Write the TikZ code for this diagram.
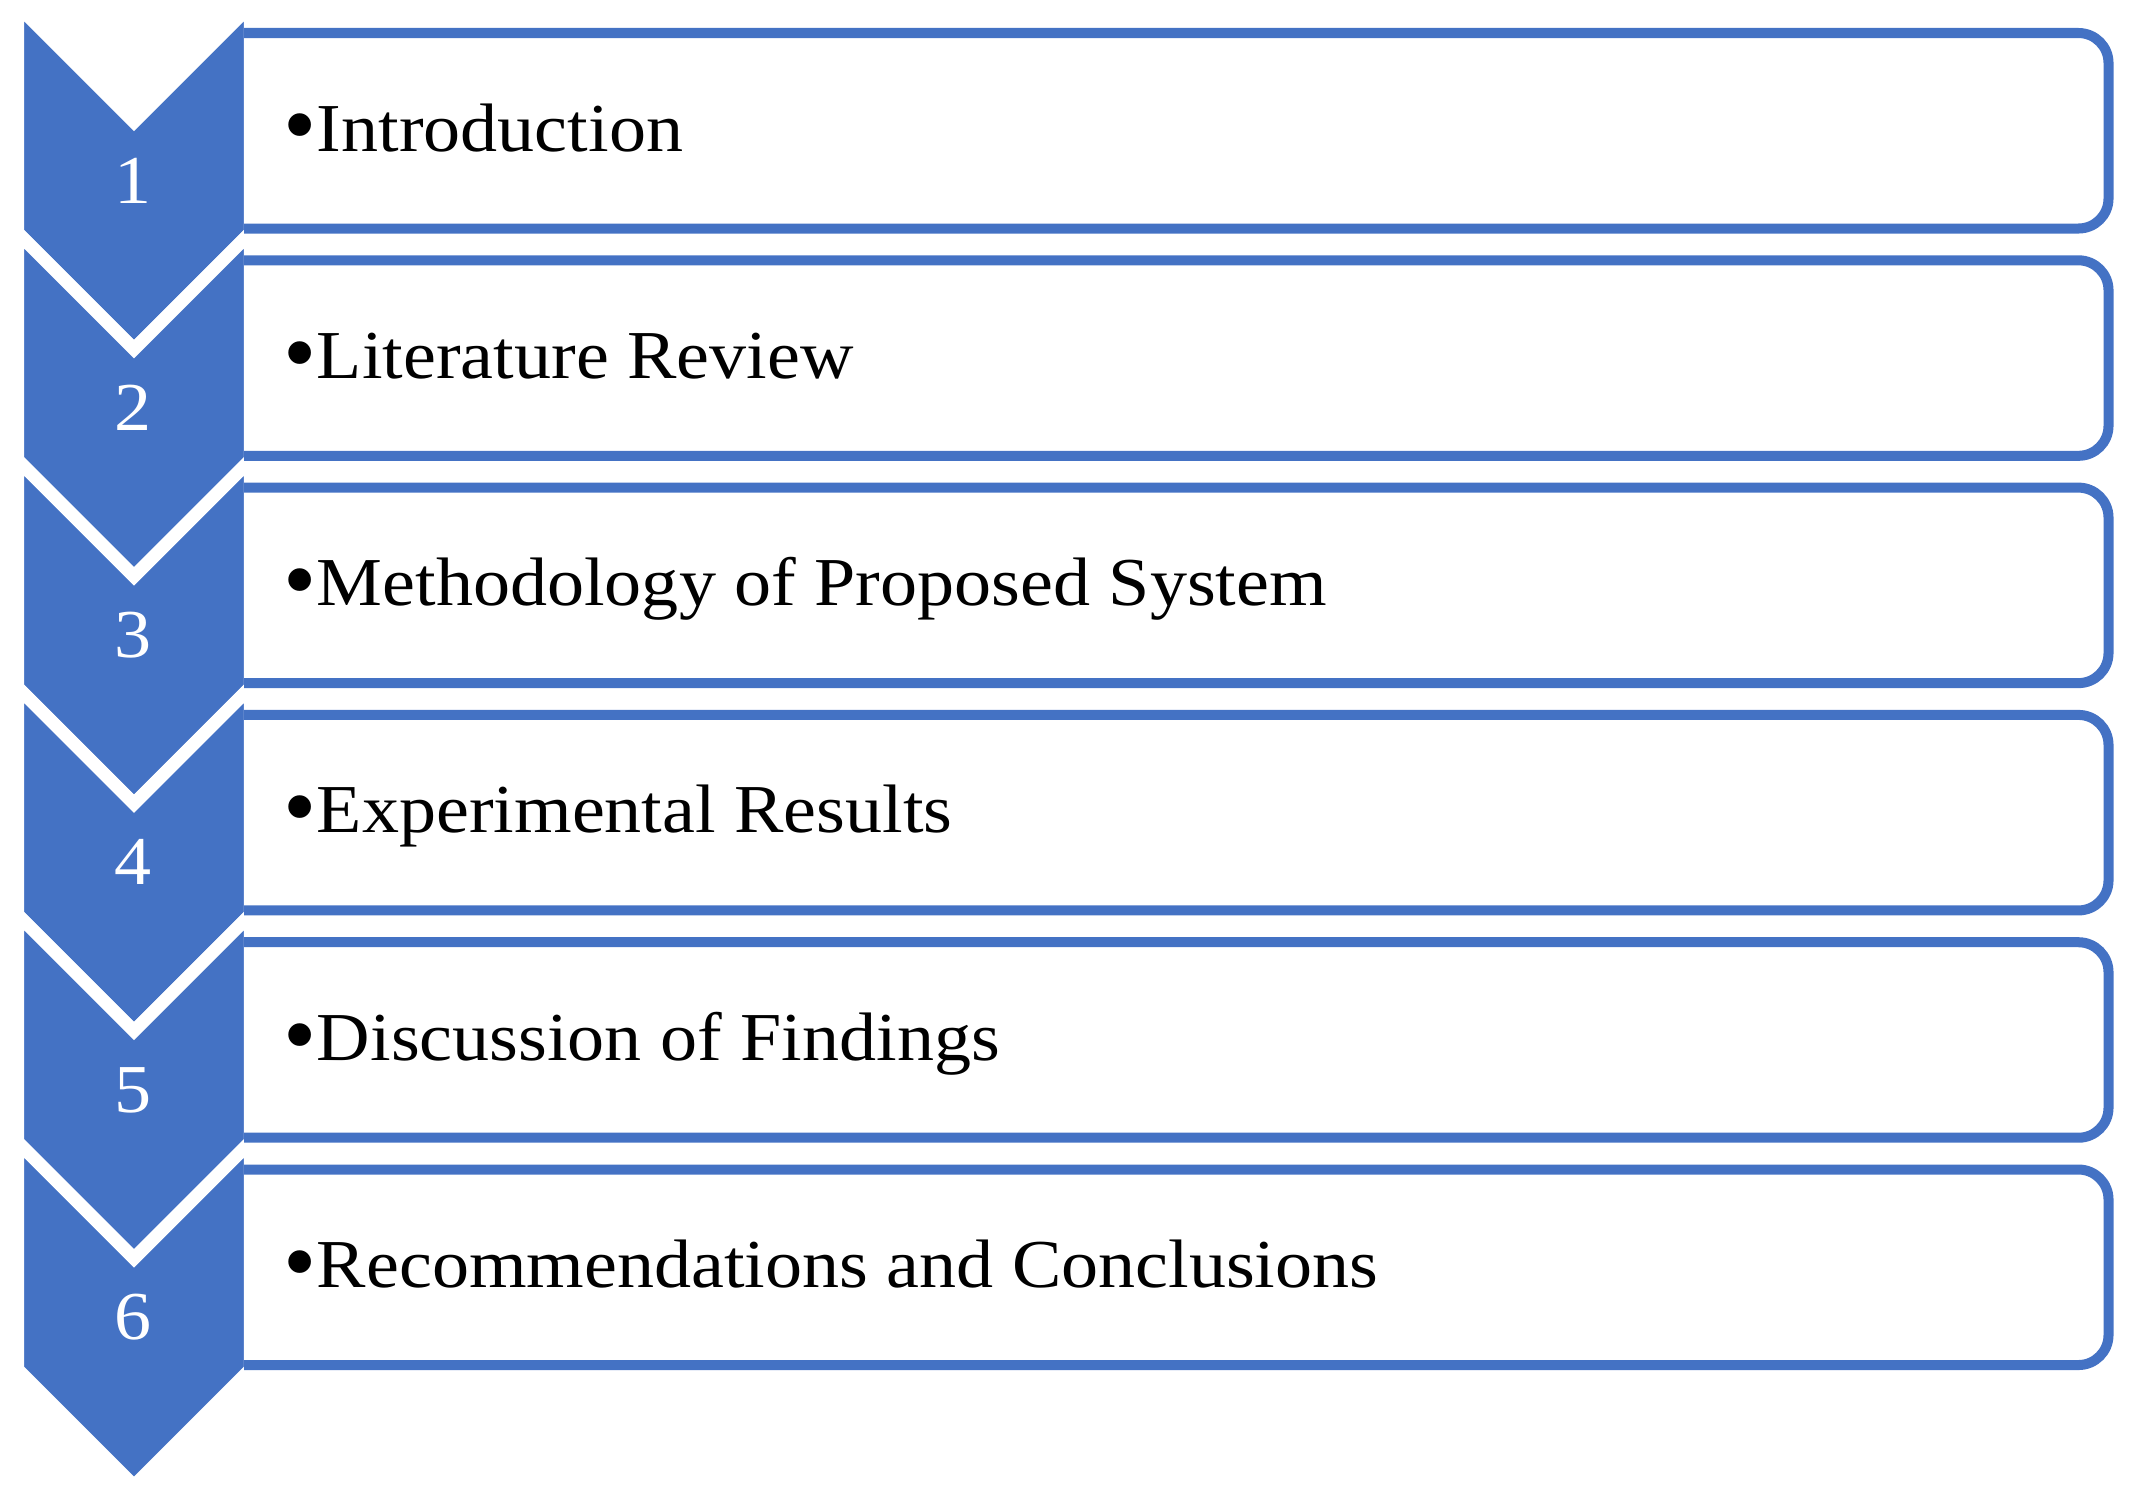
\documentclass[tikz,border=0pt]{standalone}
\usepackage{fontspec}
\setmainfont{Liberation Serif}[FakeStretch=1.08]
\newfontfamily\bulletfont{Liberation Serif}
\definecolor{chevblue}{RGB}{68,114,196}
\newcommand\bigbul{\raisebox{-1.7pt}{\bulletfont\fontsize{27}{27}\selectfont •}}
\tikzset{
  chev/.style={fill=chevblue, draw=white, line width=3.7pt, line join=miter},
  boxline/.style={draw=chevblue, line width=2.85pt, rounded corners=0.3cm},
  itemtext/.style={anchor=base west, inner sep=0pt, font=\fontsize{19.5}{23}\selectfont},
  numtext/.style={anchor=base, inner sep=0pt, text=white, font=\fontsize{19.5}{23}\selectfont}
}
\begin{document}
\begin{tikzpicture}[x=0.01cm,y=-0.01cm]
\useasboundingbox (0,0) rectangle (2134,1505);
% chevrons
\foreach \i in {0,...,5}{
  \pgfmathsetmacro\t{5.3+227.3*\i}
  \path[chev] (17.5,\t) -- (134,\t+116.5) -- (250.5,\t) -- (250.5,\t+227.5)
     -- (134,\t+344) -- (17.5,\t+227.5) -- cycle;
}
% boxes
\foreach \i in {0,...,5}{
  \pgfmathsetmacro\b{33+227.3*\i}
  \draw[boxline] (244,\b) -- (2108.5,\b) -- (2108.5,\b+195.5) -- (244,\b+195.5);
}
% texts
\foreach \lab [count=\n from 1] in {Introduction,Literature Review,Methodology of Proposed System,Experimental Results,Discussion of Findings,Recommendations and Conclusions}{
  \pgfmathsetmacro\yb{151+227.3*(\n-1)}
  \pgfmathsetmacro\yn{203+227.3*(\n-1)}
  \node[itemtext] (t\n) at (283,\yb) {\bigbul\lab};
  \node[numtext] (n\n) at (133,\yn) {\n};
}
\end{tikzpicture}
\end{document}
